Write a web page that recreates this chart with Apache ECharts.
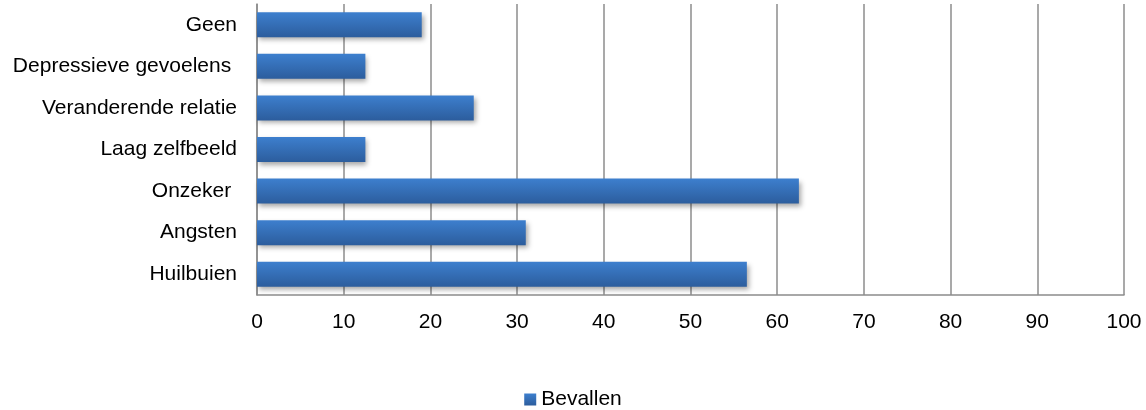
<!DOCTYPE html>
<html>
<head>
<meta charset="utf-8">
<script src="https://cdn.jsdelivr.net/npm/echarts@6/dist/echarts.min.js"></script>
<style>
  html, body { margin: 0; padding: 0; background: #ffffff; }
  #chart { width: 1146px; height: 410px; }
</style>
</head>
<body>
<div id="chart"></div>
<script>
// Categories, top to bottom
const categories = [
  'Geen',
  'Depressieve gevoelens ',
  'Veranderende relatie',
  'Laag zelfbeeld',
  'Onzeker ',
  'Angsten',
  'Huilbuien'
];
// Percentage per category
const bevallen = [19, 12.5, 25, 12.5, 62.5, 31, 56.5];
const seriesName = 'Bevallen';
const xTicks = { min: 0, max: 100, interval: 10 };

const font = 'Liberation Sans, Arial, sans-serif';
const fontSize = 21;
const gridColor = '#8c8c8c';

const chart = echarts.init(document.getElementById('chart'), null, { renderer: 'canvas' });
chart.setOption({
  animation: false,
  backgroundColor: '#ffffff',
  grid: { left: 257, right: 22, top: 4, bottom: 115, containLabel: false },
  legend: {
    data: [seriesName],
    bottom: -5,
    left: 'center',
    itemWidth: 12,
    itemHeight: 12,
    itemGap: 4,
    icon: 'rect',
    textStyle: { fontFamily: font, fontSize: fontSize, color: '#000000', padding: [0, 0, 0, 0] }
  },
  xAxis: {
    type: 'value',
    min: xTicks.min,
    max: xTicks.max,
    interval: xTicks.interval,
    axisLine: { show: true, lineStyle: { color: gridColor, width: 1.5 } },
    axisTick: { show: false },
    splitLine: { show: true, lineStyle: { color: gridColor, width: 1.5 } },
    axisLabel: { fontFamily: font, fontSize: fontSize, color: '#000000', margin: 17 }
  },
  yAxis: {
    type: 'category',
    inverse: true,
    data: categories,
    axisLine: { show: true, lineStyle: { color: gridColor, width: 1.5 } },
    axisTick: { show: false },
    axisLabel: { fontFamily: font, fontSize: fontSize, color: '#000000', margin: 20 }
  },
  series: [{
    name: seriesName,
    type: 'bar',
    data: bevallen,
    barWidth: 25,
    itemStyle: {
      color: new echarts.graphic.LinearGradient(0, 0, 0, 1, [
        { offset: 0, color: '#3d7fce' },
        { offset: 1, color: '#2c5d9d' }
      ]),
      shadowColor: 'rgba(0,0,0,0.35)',
      shadowBlur: 5,
      shadowOffsetX: 2,
      shadowOffsetY: 3
    }
  }]
});
</script>
</body>
</html>
